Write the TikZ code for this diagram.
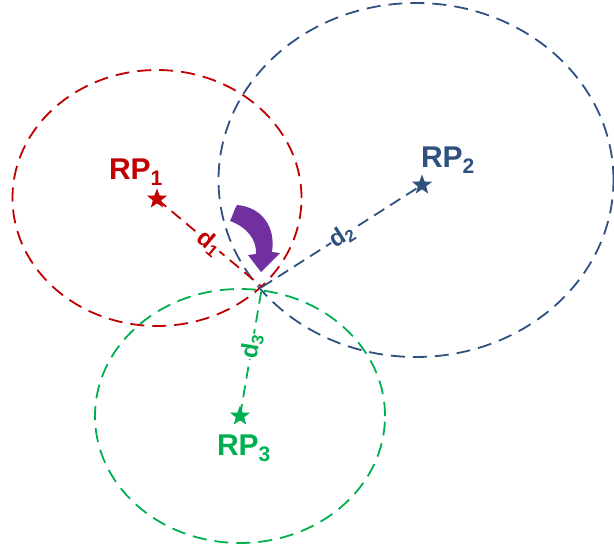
\documentclass[tikz,border=0pt]{standalone}
\usepackage{fontspec}
\setmainfont{Liberation Sans}
\usetikzlibrary{shapes.geometric}
\definecolor{rpred}{HTML}{C00000}
\definecolor{rpblue}{HTML}{2F5180}
\definecolor{rpgreen}{HTML}{00B050}
\definecolor{arrowpurple}{HTML}{7030A0}
\begin{document}
\begin{tikzpicture}[x=1pt,y=-1pt,
  rangering/.style={ellipse, draw, dash pattern=on 14pt off 8pt, line width=1.8pt, inner sep=0pt},
  refpt/.style={star, star points=5, star point ratio=2.4, fill, inner sep=0pt, minimum size=21pt},
  rplabel/.style={font=\fontsize{30}{32}\selectfont\bfseries, inner sep=0pt},
  dist/.style={dash pattern=on 12pt off 7pt, line width=1.8pt},
  dlabel/.style={font=\fontsize{24}{26}\selectfont\bfseries, fill=white, inner sep=0.5pt}]
\useasboundingbox (0,0) rectangle (614,549);

% range ellipses around the reference points
\node[rangering, rpred,   minimum width=289pt, minimum height=256pt] (c1) at (157,198) {};
\node[rangering, rpblue,  minimum width=395pt, minimum height=354pt] (c2) at (416,180) {};
\node[rangering, rpgreen, minimum width=290pt, minimum height=254pt] (c3) at (240,416) {};

% estimated position
\coordinate (p) at (262,287);

% reference points
\node[refpt, rpred]   (s1) at (157,199) {};
\node[refpt, rpblue]  (s2) at (422,185) {};
\node[refpt, rpgreen] (s3) at (240,416) {};

% distance lines
\draw[dist, rpred]   (s1.center) -- (p) node[pos=0.5, sloped, dlabel, text=rpred] {d\textsubscript{1}};
\draw[dist, rpblue]  (p) -- (s2.center) node[pos=0.5, sloped, dlabel, text=rpblue] {d\textsubscript{2}};
\draw[dist, rpgreen] (s3.center) -- (p) node[pos=0.54, sloped, dlabel, text=rpgreen] {d\textsubscript{3}};

% labels
\node[rplabel, rpred]   (l1) at (136,172) {RP\textsubscript{1}};
\node[rplabel, rpblue]  (l2) at (448,160) {RP\textsubscript{2}};
\node[rplabel, rpgreen] (l3) at (244,448) {RP\textsubscript{3}};

% curved arrow pointing at the intersection
\fill[arrowpurple] (237,205) .. controls (261,207) and (276,226) .. (272,252)
  -- (280,253) -- (261,272) -- (248,255) -- (256,254)
  .. controls (257,240) and (247,227) .. (230,221)
  .. controls (233,215) and (234,210) .. (237,205) -- cycle;
\end{tikzpicture}
\end{document}
